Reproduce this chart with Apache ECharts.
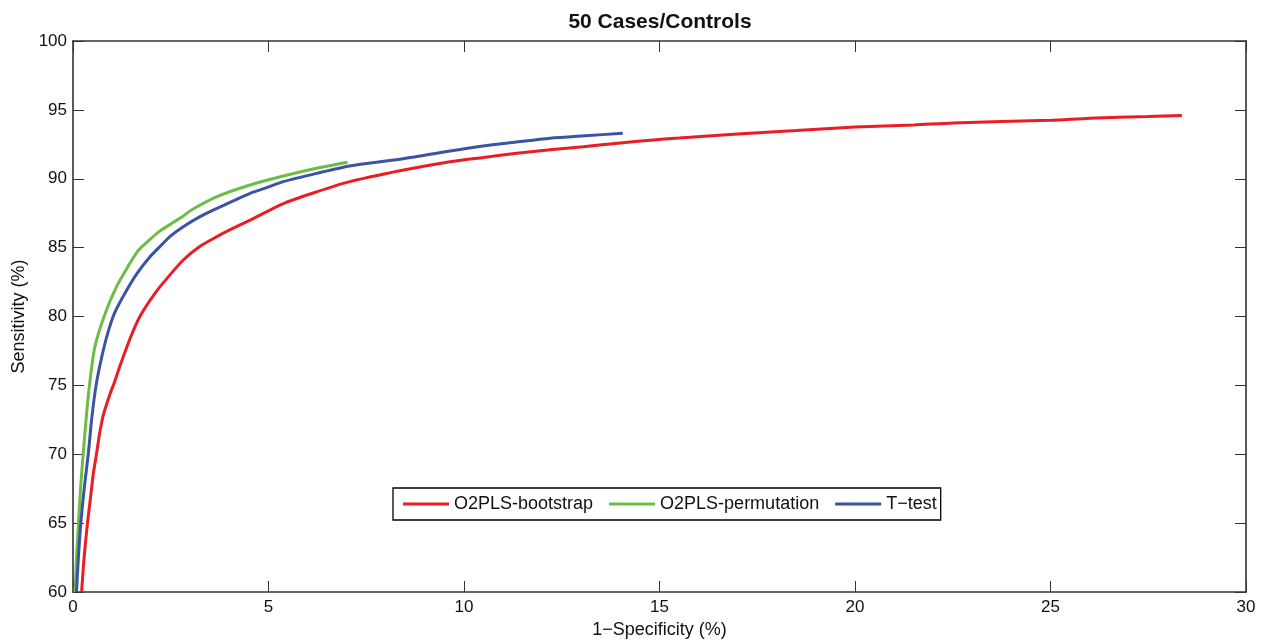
<!DOCTYPE html>
<html><head><meta charset="utf-8">
<script src="https://cdn.jsdelivr.net/npm/echarts@6/dist/echarts.min.js"></script>
<style>html,body{margin:0;padding:0;background:#fff}#c{width:1265px;height:641px}</style>
</head><body><div id="c"></div>
<script>
const seriesNames = ['O2PLS-bootstrap', 'O2PLS-permutation', 'T\u2212test'];
const bootstrap = [[0.22,60],[0.27,62],[0.31,63.3],[0.37,65],[0.45,66.9],[0.52,68.6],[0.6,70],[0.68,71.5],[0.78,72.9],[0.95,74.4],[1.07,75.3],[1.2,76.4],[1.46,78.4],[1.71,80.0],[2.1,81.7],[2.4,82.75],[2.82,84.1],[3.25,85.1],[3.68,85.8],[4.02,86.3],[4.53,87.0],[5.38,88.2],[6.23,89.05],[7.08,89.79],[8.36,90.58],[9.64,91.24],[10.5,91.55],[11.35,91.85],[12.2,92.1],[13.05,92.33],[14.0,92.6],[14.76,92.8],[15.5,92.95],[17,93.25],[18.5,93.5],[20,93.75],[21.5,93.9],[22.5,94.05],[25,94.25],[26,94.4],[27.5,94.52],[28.36,94.6]];
const permutation = [[0.05,60],[0.09,62.5],[0.14,65],[0.2,67.8],[0.26,70],[0.34,72.7],[0.42,75],[0.56,77.8],[0.82,80.2],[1.12,82.2],[1.4,83.6],[1.67,84.8],[1.97,85.6],[2.22,86.2],[2.55,86.8],[2.82,87.3],[3.04,87.75],[3.68,88.7],[4.53,89.55],[5.38,90.2],[6.23,90.76],[7.02,91.2]];
const ttest = [[0.09,60],[0.14,62.6],[0.2,65],[0.29,67.6],[0.39,70],[0.48,72.6],[0.59,75],[0.73,77.0],[0.9,78.9],[1.07,80.3],[1.35,81.8],[1.63,83.1],[1.97,84.34],[2.22,85.07],[2.5,85.85],[2.82,86.52],[3.25,87.25],[3.68,87.85],[4.1,88.4],[4.53,88.94],[4.95,89.35],[5.38,89.79],[6.23,90.39],[7.08,90.93],[8.36,91.41],[9.6,92.0],[10.49,92.38],[11.3,92.65],[12.2,92.94],[13.1,93.12],[14.06,93.3]];
const colors = ['#ec1c24', '#6cbd45', '#3a53a4'];

const chart = echarts.init(document.getElementById('c'), null, {renderer:'canvas'});
const font = 'Liberation Sans, Arial, Helvetica, sans-serif';
const axisLine = {show:true, onZero:false, lineStyle:{color:'#333', width:1.6}};
const tick = {show:true, inside:true, length:11, lineStyle:{color:'#333', width:1}};
chart.setOption({
  animation:false,
  title:{text:'50 Cases/Controls', left:655, textAlign:'center', top:7, textStyle:{fontFamily:font, fontSize:21, fontWeight:'bold', color:'#111'}},
  grid:{left:73, right:19, top:41, bottom:49, outerBoundsMode:'none', containLabel:false},
  legend:{
    data:seriesNames, left:393, top:488, orient:'horizontal',
    borderColor:'#000', borderWidth:1.3, padding:[7,4,7,10], itemGap:16,
    itemWidth:46, itemHeight:3, icon:'rect',
    textStyle:{fontFamily:font, fontSize:18, color:'#111'}
  },
  xAxis:[
    {type:'value', min:0, max:30, interval:5, position:'bottom',
     name:'1\u2212Specificity (%)', nameLocation:'middle', nameGap:26,
     nameTextStyle:{fontFamily:font, fontSize:18, color:'#111'},
     axisLine:axisLine, axisTick:tick, splitLine:{show:false},
     axisLabel:{fontFamily:font, fontSize:17, color:'#111', margin:7}},
    {type:'value', min:0, max:30, interval:5, position:'top',
     axisLine:axisLine, axisTick:tick, splitLine:{show:false}, axisLabel:{show:false}}
  ],
  yAxis:[
    {type:'value', min:60, max:100, interval:5, position:'left',
     name:'Sensitivity (%)', nameLocation:'middle', nameGap:45,
     nameTextStyle:{fontFamily:font, fontSize:18, color:'#111'},
     axisLine:axisLine, axisTick:tick, splitLine:{show:false},
     axisLabel:{fontFamily:font, fontSize:17, color:'#111', margin:6}},
    {type:'value', min:60, max:100, interval:5, position:'right',
     axisLine:axisLine, axisTick:tick, splitLine:{show:false}, axisLabel:{show:false}}
  ],
  series:[
    {name:seriesNames[0], type:'line', data:bootstrap, showSymbol:false, symbol:'none', smooth:0.25, lineStyle:{width:3, color:colors[0]}, itemStyle:{color:colors[0]}, z:3},
    {name:seriesNames[1], type:'line', data:permutation, showSymbol:false, symbol:'none', smooth:0.25, lineStyle:{width:3, color:colors[1]}, itemStyle:{color:colors[1]}, z:2},
    {name:seriesNames[2], type:'line', data:ttest, showSymbol:false, symbol:'none', smooth:0.25, lineStyle:{width:3, color:colors[2]}, itemStyle:{color:colors[2]}, z:4}
  ]
});
</script></body></html>
